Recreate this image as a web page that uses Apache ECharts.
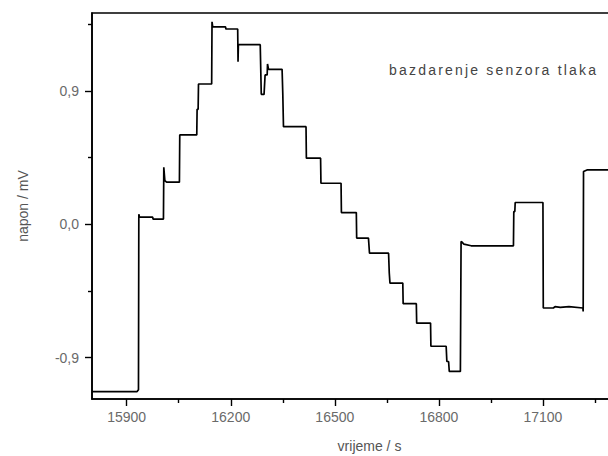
<!DOCTYPE html>
<html>
<head>
<meta charset="utf-8">
<script src="https://cdn.jsdelivr.net/npm/echarts@6/dist/echarts.min.js"></script>
<style>
html,body{margin:0;padding:0;background:#fff;}
#chart{width:608px;height:456px;}
</style>
</head>
<body>
<div id="chart"></div>
<script>
// time (s) and voltage (mV) along the recorded step trace
const timeS = [
  15800, 15930, 15934, 15935, 15937, 15975, 15976, 16006, 16007, 16010, 16015,
  16052, 16053, 16102, 16103, 16106, 16107, 16145, 16146, 16148, 16185, 16186,
  16220, 16221, 16222, 16285, 16288, 16296, 16299, 16305, 16306, 16309, 16348,
  16350, 16352, 16417, 16418, 16459, 16460, 16518, 16519, 16562, 16563, 16597,
  16600, 16655, 16657, 16659, 16696, 16697, 16735, 16736, 16776, 16777, 16821,
  16823, 16828, 16830, 16862, 16864, 16866, 16872, 16893, 17015, 17016, 17019,
  17020, 17100, 17101, 17130, 17135, 17150, 17175, 17215, 17216, 17217, 17227,
  17400
];
const voltageMV = [
  -1.13, -1.13, -1.118, 0.067, 0.047, 0.047, 0.034, 0.034, 0.384, 0.294, 0.283,
  0.283, 0.602, 0.602, 0.775, 0.775, 0.946, 0.946, 1.366, 1.332, 1.332, 1.317,
  1.317, 1.096, 1.211, 1.211, 0.876, 0.876, 1.007, 1.007, 1.081, 1.045, 1.045,
  0.883, 0.658, 0.658, 0.445, 0.445, 0.276, 0.276, 0.078, 0.078, -0.094, -0.094,
  -0.196, -0.196, -0.33, -0.398, -0.398, -0.537, -0.537, -0.668, -0.668, -0.824, -0.824,
  -0.927, -0.927, -0.994, -0.994, -0.117, -0.12, -0.135, -0.146, -0.146, 0.085, 0.085,
  0.146, 0.146, -0.566, -0.566, -0.556, -0.562, -0.556, -0.566, -0.589, 0.355, 0.366,
  0.366
];
const xTickValues = [15900, 16200, 16500, 16800, 17100];
const xMinorTickValues = [16050, 16350, 16650, 16950, 17250];
const yTickValues = [-0.9, 0.0, 0.9];
const yMinorTickValues = [-0.45, 0.45, 1.35];
const xTitle = 'vrijeme / s';
const yTitle = 'napon / mV';
const annotationText = 'bazdarenje senzora tlaka';

const FONT = '"Liberation Sans", Arial, sans-serif';
const seriesData = timeS.map((t, i) => [t, voltageMV[i]]);

const chart = echarts.init(document.getElementById('chart'), null, {renderer: 'svg'});
const xMin = 15800, xMax = 17400, yMin = -1.18, yMax = 1.425;

const option = {
  animation: false,
  backgroundColor: '#fff',
  grid: {
    left: 92, top: 13, height: 386, width: 555,
    outerBoundsMode: 'none', containLabel: false,
    show: true, borderColor: '#000', borderWidth: 1.6, backgroundColor: 'transparent'
  },
  xAxis: [
    {
      type: 'value', min: xMin, max: xMax, position: 'bottom',
      name: xTitle, nameLocation: 'middle', nameGap: 40,
      nameTextStyle: {fontFamily: FONT, fontSize: 14, color: '#555'},
      axisLine: {show: true, onZero: false, lineStyle: {color: '#000', width: 1.6}},
      axisTick: {show: true, inside: false, length: 7, customValues: xTickValues, lineStyle: {color: '#000', width: 1.4}},
      axisLabel: {show: true, customValues: xTickValues, margin: 11, fontFamily: FONT, fontSize: 14, color: '#6a6a6a', formatter: v => String(v)},
      splitLine: {show: false}
    },
    {
      type: 'value', min: xMin, max: xMax, position: 'bottom',
      axisLine: {show: false, onZero: false},
      axisTick: {show: true, inside: false, length: 4, customValues: xMinorTickValues, lineStyle: {color: '#000', width: 1.4}},
      axisLabel: {show: false},
      splitLine: {show: false}
    }
  ],
  yAxis: [
    {
      type: 'value', min: yMin, max: yMax, position: 'left',
      name: yTitle, nameLocation: 'middle', nameGap: 62, nameRotate: 90,
      nameTextStyle: {fontFamily: FONT, fontSize: 14, color: '#555'},
      axisLine: {show: true, onZero: false, lineStyle: {color: '#000', width: 1.6}},
      axisTick: {show: true, inside: false, length: 7, customValues: yTickValues, lineStyle: {color: '#000', width: 1.4}},
      axisLabel: {show: true, customValues: yTickValues, margin: 13, fontFamily: FONT, fontSize: 14, color: '#6a6a6a',
        formatter: v => v.toFixed(1).replace('.', ',')},
      splitLine: {show: false}
    },
    {
      type: 'value', min: yMin, max: yMax, position: 'left',
      axisLine: {show: false, onZero: false},
      axisTick: {show: true, inside: false, length: 4, customValues: yMinorTickValues, lineStyle: {color: '#000', width: 1.4}},
      axisLabel: {show: false},
      splitLine: {show: false}
    }
  ],
  graphic: [
    {
      type: 'text', left: 389, top: 63, silent: true,
      style: {text: annotationText, fontFamily: FONT, fontSize: 14, fill: '#444'}
    }
  ],
  series: [
    {
      type: 'line', xAxisIndex: 0, yAxisIndex: 0,
      data: seriesData, showSymbol: false, symbol: 'none',
      lineStyle: {color: '#000', width: 1.7},
      clip: true
    }
  ]
};
chart.setOption(option);

function spaceAnnotation() {
  document.querySelectorAll('#chart text').forEach(t => {
    if (t.textContent === annotationText) t.setAttribute('letter-spacing', '2.2');
  });
}
spaceAnnotation();
chart.on('finished', spaceAnnotation);
</script>
</body>
</html>
